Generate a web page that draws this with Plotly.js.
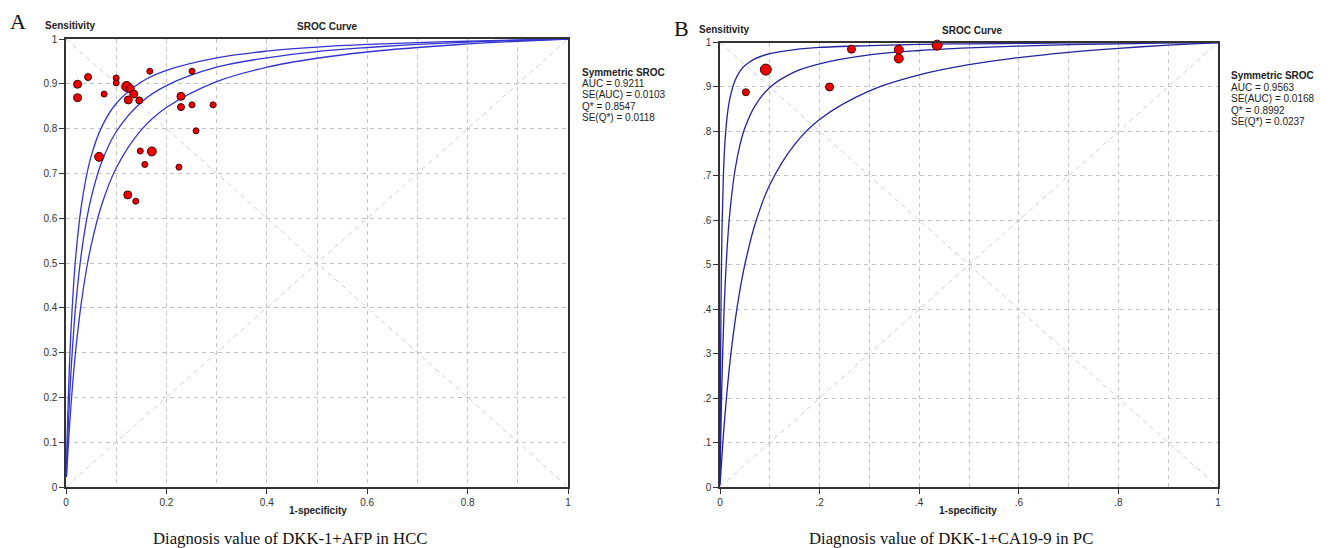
<!DOCTYPE html>
<html><head><meta charset="utf-8">
<script src="https://cdn.plot.ly/plotly-3.0.1.min.js"></script>
<style>html,body{margin:0;padding:0;background:#fff}#chart{width:1334px;height:548px}</style>
</head><body><div id="chart"></div>
<script>
// ---------- Panel A : DKK-1+AFP in HCC ----------
const studyFprA  = [0.023,0.023,0.044,0.076,0.100,0.100,0.121,0.128,0.135,0.124,0.146,0.167,0.251,0.229,0.229,0.251,0.293,0.259,0.066,0.148,0.171,0.157,0.225,0.123,0.139];
const studySensA = [0.899,0.869,0.915,0.877,0.913,0.902,0.894,0.889,0.877,0.864,0.863,0.928,0.928,0.872,0.848,0.853,0.853,0.795,0.737,0.750,0.749,0.720,0.714,0.652,0.638];
const studyWeightA = [8,8,7,6,6,6,10,8,8,8,7,6,6,8,7,6,6,6,9,6,9,6,6,8,6];

const curveFprA   = [0.001,0.002,0.004,0.007,0.01,0.015,0.02,0.03,0.04,0.05,0.07,0.1,0.15,0.2,0.3,0.4,0.5,0.6,0.7,0.8,0.9,1];
const curveUpperA = [0.051,0.097,0.177,0.274,0.351,0.449,0.522,0.623,0.690,0.738,0.801,0.856,0.904,0.930,0.958,0.973,0.982,0.988,0.992,0.995,0.998,1];
const curveSrocA  = [0.033,0.065,0.122,0.196,0.258,0.344,0.413,0.516,0.590,0.645,0.722,0.793,0.859,0.896,0.937,0.958,0.972,0.981,0.988,0.993,0.997,1];
const curveLowerA = [0.022,0.043,0.082,0.135,0.183,0.253,0.312,0.407,0.481,0.539,0.626,0.712,0.797,0.847,0.905,0.937,0.957,0.971,0.981,0.989,0.995,1];
const statsA = ["AUC = 0.9211","SE(AUC) = 0.0103","Q* = 0.8547","SE(Q*) = 0.0118"];
const captionA = "Diagnosis value of DKK-1+AFP in HCC";
const xTickTextA = ["0","0.2","0.4","0.6","0.8","1"];
const yTickTextA = ["0","0.1","0.2","0.3","0.4","0.5","0.6","0.7","0.8","0.9","1"];

// ---------- Panel B : DKK-1+CA19-9 in PC ----------
const studyFprB  = [0.052,0.092,0.220,0.264,0.359,0.359,0.436];
const studySensB = [0.888,0.939,0.900,0.985,0.984,0.964,0.994];
const studyWeightB = [7,11,8,8,9,9,10];

const curveFprB   = [0.0002,0.0005,0.001,0.002,0.004,0.007,0.01,0.015,0.02,0.03,0.04,0.05,0.07,0.1,0.15,0.2,0.3,0.4,0.5,0.6,0.7,0.8,0.9,1];
const curveUpperB = [0.064,0.147,0.256,0.408,0.580,0.708,0.777,0.840,0.875,0.914,0.935,0.948,0.963,0.975,0.984,0.989,0.993,0.996,0.997,0.998,0.999,0.9993,0.9997,1];
const curveSrocB  = [0.016,0.038,0.074,0.138,0.243,0.360,0.446,0.549,0.620,0.712,0.769,0.808,0.857,0.899,0.934,0.952,0.972,0.982,0.988,0.992,0.995,0.997,0.999,1];
const curveLowerB = [0.004,0.010,0.019,0.037,0.071,0.119,0.162,0.225,0.281,0.371,0.443,0.501,0.590,0.680,0.771,0.827,0.891,0.927,0.950,0.966,0.978,0.987,0.994,1];
const statsB = ["AUC = 0.9563","SE(AUC) = 0.0168","Q* = 0.8992","SE(Q*) = 0.0237"];
const captionB = "Diagnosis value of DKK-1+CA19-9 in PC";
const xTickTextB = ["0",".2",".4",".6",".8","1"];
const yTickTextB = ["0",".1",".2",".3",".4",".5",".6",".7",".8",".9","1"];

const xTickVals = [0,0.2,0.4,0.6,0.8,1];
const yTickVals = [0,0.1,0.2,0.3,0.4,0.5,0.6,0.7,0.8,0.9,1];

// ---------- drawing ----------
const W = 1334, H = 548;
const SANS = "Liberation Sans, Arial, sans-serif";
const SERIF = "Liberation Serif, Times New Roman, serif";
const px = v => v / W;
const py = v => 1 - v / H;

function curve(x, y, xa, ya, color) {
  return {type:'scatter', mode:'lines', x:x, y:y, xaxis:xa, yaxis:ya,
          line:{color:color, width:1.3, shape:'spline', smoothing:1}, hoverinfo:'skip', showlegend:false};
}
function points(x, y, w, xa, ya) {
  return {type:'scatter', mode:'markers', x:x, y:y, xaxis:xa, yaxis:ya,
          marker:{size:w, sizemode:'diameter', opacity:1, color:'#ee0000', line:{color:'#4a0000', width:1}},
          cliponaxis:false, showlegend:false};
}

const blueA = '#3434d0', blueB = '#23239e';
const data = [
  curve(curveFprA, curveUpperA, 'x', 'y', blueA),
  curve(curveFprA, curveSrocA,  'x', 'y', blueA),
  curve(curveFprA, curveLowerA, 'x', 'y', blueA),
  points(studyFprA, studySensA, studyWeightA, 'x', 'y'),
  curve(curveFprB, curveUpperB, 'x2', 'y2', blueB),
  curve(curveFprB, curveSrocB,  'x2', 'y2', blueB),
  curve(curveFprB, curveLowerB, 'x2', 'y2', blueB),
  points(studyFprB, studySensB, studyWeightB, 'x2', 'y2')
];

const gridCol = '#c4c4c4';
const gridDash = '4px,4px';
function xAxis(domain, ticktext, anchor) {
  return {domain:domain, range:[0,1], anchor:anchor, fixedrange:true,
    tickmode:'array', tickvals:xTickVals, ticktext:ticktext,
    ticks:'outside', ticklen:5, tickcolor:'#333', tickwidth:1,
    showline:true, linecolor:'#333', linewidth:1.6, mirror:true,
    showgrid:true, gridcolor:gridCol, griddash:gridDash, gridwidth:1, zeroline:false,
    minor:{tick0:0, dtick:0.1, showgrid:true, gridcolor:gridCol, griddash:gridDash, gridwidth:1, ticks:''},
    tickfont:{family:SANS, size:10, color:'#333'}};
}
function yAxis(domain, ticktext, anchor) {
  return {domain:domain, range:[0,1], anchor:anchor, fixedrange:true,
    tickmode:'array', tickvals:yTickVals, ticktext:ticktext,
    ticks:'outside', ticklen:5, tickcolor:'#333', tickwidth:1,
    showline:true, linecolor:'#333', linewidth:1.6, mirror:true,
    showgrid:true, gridcolor:gridCol, griddash:gridDash, gridwidth:1, zeroline:false,
    tickfont:{family:SANS, size:10, color:'#333'}};
}

function diag(xr, yr) {
  const s = {type:'line', xref:xr, yref:yr, layer:'below', line:{color:'#d0d0d0', width:1, dash:'5px,4px'}};
  return [Object.assign({x0:0,y0:0,x1:1,y1:1}, s), Object.assign({x0:0,y0:1,x1:1,y1:0}, s)];
}

function txt(text, x, y, opts) {
  return Object.assign({text:text, x:px(x), y:py(y), xref:'paper', yref:'paper', showarrow:false,
    xanchor:'left', yanchor:'middle', font:{family:SANS, size:10, color:'#222'}}, opts||{});
}

const ann = [];
// Panel A texts
ann.push(txt('A', 8, 21, {font:{family:SERIF, size:22, color:'#111'}}));
ann.push(txt('<b>Sensitivity</b>', 43, 25));
ann.push(txt('<b>SROC Curve</b>', 327, 27, {xanchor:'center'}));
ann.push(txt('<b>1-specificity</b>', 318, 510, {xanchor:'center'}));
ann.push(txt(captionA, 290, 538, {xanchor:'center', font:{family:SERIF, size:16.7, color:'#111'}}));
ann.push(txt('<b>Symmetric SROC</b>', 580, 72.7));
const legYA = [83.6, 94.8, 106, 117.3];
statsA.forEach((s,i) => ann.push(txt(s, 580, legYA[i])));
// Panel B texts
ann.push(txt('B', 672, 28, {font:{family:SERIF, size:22, color:'#111'}}));
ann.push(txt('<b>Sensitivity</b>', 697, 30));
ann.push(txt('<b>SROC Curve</b>', 972, 31, {xanchor:'center'}));
ann.push(txt('<b>1-specificity</b>', 968, 510, {xanchor:'center'}));
ann.push(txt(captionB, 951, 538, {xanchor:'center', font:{family:SERIF, size:16.7, color:'#111'}}));
ann.push(txt('<b>Symmetric SROC</b>', 1229, 76));
const legYB = [87.5, 98.8, 110, 121.3];
statsB.forEach((s,i) => ann.push(txt(s, 1229, legYB[i])));

const layout = {
  width:W, height:H, margin:{l:0,r:0,t:0,b:0},
  paper_bgcolor:'#fff', plot_bgcolor:'#fff', showlegend:false,
  xaxis: xAxis([px(66), px(568)], xTickTextA, 'y'),
  yaxis: yAxis([1-487/H, 1-39/H], yTickTextA, 'x'),
  xaxis2: xAxis([px(720), px(1218)], xTickTextB, 'y2'),
  yaxis2: yAxis([1-487/H, 1-42.5/H], yTickTextB, 'x2'),
  shapes: diag('x','y').concat(diag('x2','y2')),
  annotations: ann
};

Plotly.newPlot('chart', data, layout, {staticPlot:true, displayModeBar:false});
</script>
</body></html>
